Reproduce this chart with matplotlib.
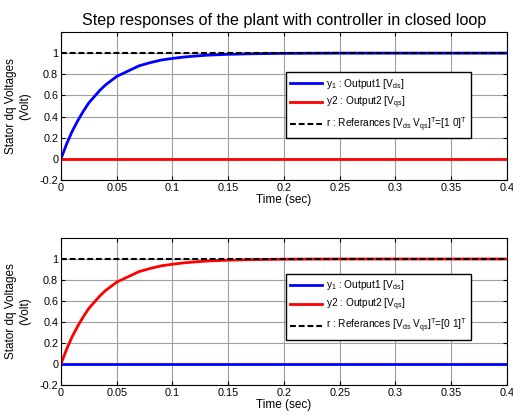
import matplotlib
matplotlib.use("Agg")
import matplotlib.pyplot as plt
import numpy as np

plt.rcParams['font.family'] = ['Liberation Sans', 'DejaVu Sans']
plt.rcParams['mathtext.default'] = 'regular'

# Data
t = [0, 0.005, 0.01, 0.015, 0.02, 0.025, 0.03, 0.035, 0.04, 0.045, 0.05, 0.06, 0.07,
     0.08, 0.09, 0.1, 0.11, 0.12, 0.13, 0.15, 0.17, 0.2, 0.25, 0.3, 0.35, 0.4]
y_step = [0, 0.14, 0.26, 0.36, 0.45, 0.53, 0.59, 0.65, 0.70, 0.74, 0.78, 0.83, 0.88,
          0.91, 0.935, 0.95, 0.963, 0.972, 0.98, 0.989, 0.994, 0.998, 1.0, 1.0, 1.0, 1.0]
t_ref = [0, 0.4]
ref_on = [1, 1]
zero_t = [0, 0.4]
zero_y = [0, 0]

title = "Step responses of the plant with controller in closed loop"
ylabel = "Stator dq Voltages\n(Volt)"
xlabel = "Time (sec)"
xticks = [0, 0.05, 0.1, 0.15, 0.2, 0.25, 0.3, 0.35, 0.4]
xticklabels = ["0", "0.05", "0.1", "0.15", "0.2", "0.25", "0.3", "0.35", "0.4"]
yticks = [-0.2, 0, 0.2, 0.4, 0.6, 0.8, 1]
yticklabels = ["-0.2", "0", "0.2", "0.4", "0.6", "0.8", "1"]
lab1 = r"y$_1$ : Output1 [V$_{ds}$]"
lab2 = r"y2 : Output2 [V$_{qs}$]"
lab3_top = r"r : Referances [V$_{ds}$ V$_{qs}$]$^T$=[1 0]$^T$"
lab3_bot = r"r : Referances [V$_{ds}$ V$_{qs}$]$^T$=[0 1]$^T$"

fig = plt.figure(figsize=(5.13, 4.15), dpi=100)
ax1 = fig.add_axes([0.1189, 0.5663, 0.8694, 0.3566])
ax2 = fig.add_axes([0.1189, 0.0723, 0.8694, 0.3542])

def style(ax):
    ax.set_xlim(0, 0.4)
    ax.set_ylim(-0.2, 1.2)
    ax.set_xticks(xticks)
    ax.set_xticklabels(xticklabels)
    ax.set_yticks(yticks)
    ax.set_yticklabels(yticklabels)
    ax.grid(True, color='#a0a0a0', linewidth=0.8)
    ax.tick_params(direction='in', top=True, right=True, labelsize=7.8, length=3, pad=2)
    ax.set_xlabel(xlabel, fontsize=8.5, labelpad=1)
    ax.set_ylabel(ylabel, fontsize=8.5, labelpad=6)
    for s in ax.spines.values():
        s.set_linewidth(0.8)

dash = (0, (2.8, 1.4))
legkw = dict(loc='upper left', fontsize=7.3, frameon=True, fancybox=False,
             edgecolor='black', framealpha=1, handlelength=3.2, labelspacing=0.42,
             borderpad=0.42, handletextpad=0.3, borderaxespad=0)

# Top
l1, = ax1.plot(t, y_step, color='#0000ff', lw=2)
l2, = ax1.plot(zero_t, zero_y, color='#ff0000', lw=2)
l3, = ax1.plot(t_ref, ref_on, color='black', lw=1.5, ls=dash)
style(ax1)
ax1.set_title(title, fontsize=11.6, pad=5)
leg = ax1.legend([l1, l2, l3], [lab1, lab2, lab3_top],
                 bbox_to_anchor=(0.504, 0.727), **legkw)
leg.get_frame().set_linewidth(1.0)

# Bottom
m1, = ax2.plot(zero_t, zero_y, color='#0000ff', lw=2)
m2, = ax2.plot(t, y_step, color='#ff0000', lw=2)
m3, = ax2.plot(t_ref, ref_on, color='black', lw=1.5, ls=dash)
style(ax2)
leg2 = ax2.legend([m1, m2, m3], [lab1, lab2, lab3_bot],
                  bbox_to_anchor=(0.504, 0.755), **legkw)
leg2.get_frame().set_linewidth(1.0)

fig.savefig("out.png", dpi=100)
